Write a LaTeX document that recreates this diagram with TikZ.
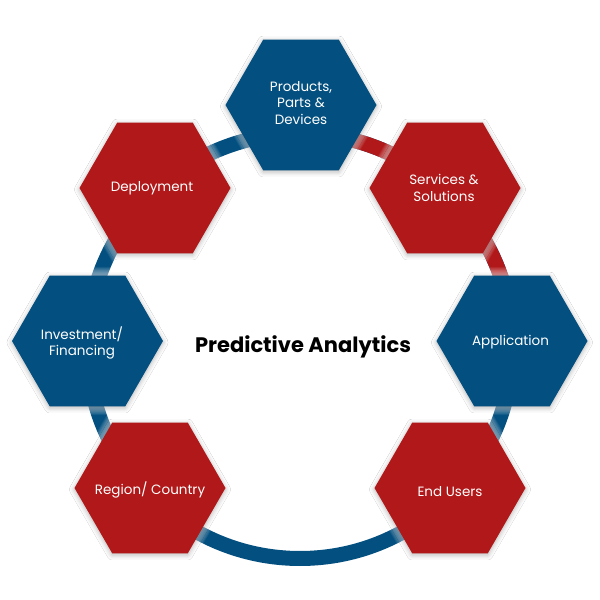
\documentclass[tikz,border=0pt]{standalone}
\usepackage{fontspec}
\setmainfont{Poppins}
\usetikzlibrary{shapes.geometric,shadows.blur}
\definecolor{hexblue}{RGB}{3,79,127}
\definecolor{hexred}{RGB}{176,24,25}
\tikzset{
  hexbox/.style={regular polygon, regular polygon sides=6, minimum size=151pt,
    inner sep=0pt, draw=none,
    blur shadow={shadow xshift=0pt, shadow yshift=-1.5pt, shadow blur radius=5pt, shadow opacity=30}},
  bluehex/.style={hexbox, fill=hexblue},
  redhex/.style={hexbox, fill=hexred},
  halo/.style={regular polygon, regular polygon sides=6, inner sep=0pt, draw=none, fill=white, fill opacity=0.07},
  lbl/.style={text=white, align=center, font=\fontsize{13.5}{16.5}\selectfont},
  ringblue/.style={draw=hexblue, line width=15pt},
  ringred/.style={draw=hexred, line width=15pt},
  titletext/.style={font=\fontsize{21}{25}\selectfont\bfseries, text=black}
}
\begin{document}
\begin{tikzpicture}[x=1pt,y=1pt]
\useasboundingbox (0,0) rectangle (600,600);
\coordinate (c) at (300,254);
\coordinate (cprod) at (301,495);
\coordinate (cserv) at (445,412);
\coordinate (capp)  at (512,259);
\coordinate (cend)  at (450,112);
\coordinate (creg)  at (150,112);
\coordinate (cinv)  at (87.5,259);
\coordinate (cdep)  at (155,412);
% ring
\draw[ringblue] (c) circle (212.5);
\draw[ringred] ([shift={(5:212.5)}]c) arc[start angle=5, end angle=88, radius=212.5];
% soft light halo where the ring meets the hexagons
\foreach \p in {cprod,cserv,capp,cend,creg,cinv,cdep}{
  \foreach \k in {1,...,10}{
    \node[halo, minimum size=151pt+2pt*\k] at (\p) {};
  }
}
% hexagons
\node[bluehex] (prod) at (cprod) {};
\node[redhex]  (serv) at (cserv) {};
\node[bluehex] (app)  at (capp) {};
\node[redhex]  (end)  at (cend) {};
\node[redhex]  (reg)  at (creg) {};
\node[bluehex] (inv)  at (cinv) {};
\node[redhex]  (dep)  at (cdep) {};
% labels
\node[lbl] (tprod) at ([yshift=2pt]prod.center) {Products,\\Parts \&\\Devices};
\node[lbl] (tserv) at ([xshift=-1pt]serv.center) {Services \&\\Solutions};
\node[lbl] (tapp)  at ([xshift=-1.5pt,yshift=-1.5pt]app.center) {Application};
\node[lbl] (tend)  at ([yshift=-4pt]end.center) {End Users};
\node[lbl] (treg)  at ([yshift=-1.5pt]reg.center) {Region/ Country};
\node[lbl] (tinv)  at ([xshift=-5.5pt,yshift=-2pt]inv.center) {Investment/\\Financing};
\node[lbl] (tdep)  at ([xshift=-3pt]dep.center) {Deployment};
% title
\node[titletext] (title) at (303,253) {Predictive Analytics};
\end{tikzpicture}
\end{document}
